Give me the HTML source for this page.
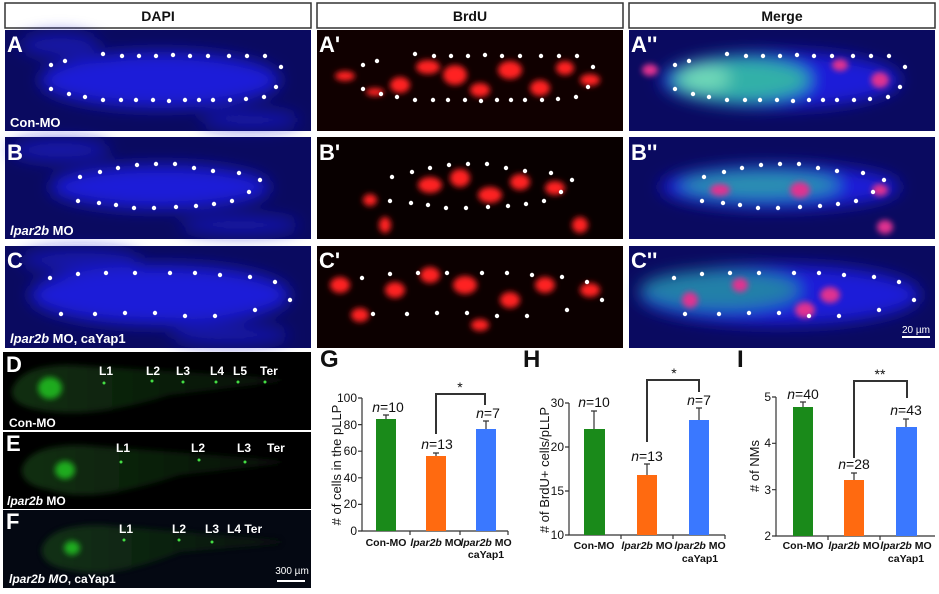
<!DOCTYPE html>
<html><head><meta charset="utf-8"><style>
body{margin:0;background:#fff}
svg{display:block;font-family:"Liberation Sans",Arial,sans-serif}
</style></head><body>
<svg width="939" height="594" viewBox="0 0 939 594" xmlns="http://www.w3.org/2000/svg">
<defs>
<filter id="b8" x="-50%" y="-50%" width="200%" height="200%"><feGaussianBlur stdDeviation="8"/></filter>
<filter id="b3" x="-50%" y="-50%" width="200%" height="200%"><feGaussianBlur stdDeviation="3"/></filter>
<linearGradient id="fish" x1="0" x2="1"><stop offset="0" stop-color="#163f16"/><stop offset="1" stop-color="#0a160a"/></linearGradient>
</defs>
<!-- headers -->
<g fill="#fff" stroke="#333" stroke-width="1.5">
<rect x="5" y="3" width="306" height="25"/><rect x="317" y="3" width="306" height="25"/><rect x="629" y="3" width="306" height="25"/>
</g>
<g font-weight="bold" font-size="14" text-anchor="middle" fill="#111">
<text x="158" y="21">DAPI</text><text x="470" y="21">BrdU</text><text x="782" y="21">Merge</text>
</g>
<g id="rows">
<rect x="5" y="30" width="306" height="101" fill="#0a0a60"/>
<rect x="5" y="137" width="306" height="102" fill="#0a0a60"/>
<rect x="5" y="246" width="306" height="102" fill="#0a0a60"/>
<g fill="#1a1ad8" filter="url(#b8)">
<ellipse cx="160" cy="80" rx="120" ry="28"/><ellipse cx="60" cy="45" rx="40" ry="12" opacity=".6"/><ellipse cx="250" cy="120" rx="50" ry="10" opacity=".6"/>
<ellipse cx="160" cy="187" rx="110" ry="22"/><ellipse cx="60" cy="150" rx="50" ry="12" opacity=".6"/><ellipse cx="240" cy="225" rx="60" ry="10" opacity=".6"/>
<ellipse cx="160" cy="295" rx="130" ry="30"/><ellipse cx="80" cy="260" rx="60" ry="12" opacity=".6"/><ellipse cx="230" cy="335" rx="60" ry="10" opacity=".6"/>
</g>
<rect x="317" y="30" width="306" height="101" fill="#100000"/>
<rect x="317" y="137" width="306" height="102" fill="#080000"/>
<rect x="317" y="246" width="306" height="102" fill="#0c0000"/>
<g fill="#ff2020" filter="url(#b3)">
<ellipse cx="345" cy="76" rx="10" ry="5"/><ellipse cx="400" cy="85" rx="10" ry="8"/><ellipse cx="428" cy="67" rx="12" ry="7"/><ellipse cx="455" cy="75" rx="12" ry="10"/><ellipse cx="480" cy="90" rx="10" ry="7"/><ellipse cx="510" cy="70" rx="12" ry="9"/><ellipse cx="540" cy="88" rx="10" ry="8"/><ellipse cx="565" cy="68" rx="9" ry="7"/><ellipse cx="590" cy="80" rx="10" ry="6"/><ellipse cx="375" cy="92" rx="9" ry="4"/>
<ellipse cx="430" cy="185" rx="12" ry="8"/><ellipse cx="460" cy="178" rx="10" ry="9"/><ellipse cx="490" cy="195" rx="12" ry="8"/><ellipse cx="520" cy="182" rx="10" ry="8"/><ellipse cx="555" cy="188" rx="10" ry="7"/><ellipse cx="370" cy="200" rx="7" ry="6"/><ellipse cx="385" cy="225" rx="6" ry="8"/><ellipse cx="580" cy="225" rx="8" ry="8"/>
<ellipse cx="340" cy="285" rx="10" ry="8"/><ellipse cx="395" cy="290" rx="10" ry="8"/><ellipse cx="430" cy="275" rx="10" ry="8"/><ellipse cx="465" cy="285" rx="12" ry="9"/><ellipse cx="510" cy="300" rx="10" ry="8"/><ellipse cx="545" cy="285" rx="10" ry="8"/><ellipse cx="590" cy="290" rx="10" ry="7"/><ellipse cx="360" cy="315" rx="9" ry="7"/><ellipse cx="480" cy="325" rx="9" ry="6"/>
</g>
<rect x="629" y="30" width="306" height="101" fill="#0a0a60"/>
<rect x="629" y="137" width="306" height="102" fill="#0a0a60"/>
<rect x="629" y="246" width="306" height="102" fill="#0a0a60"/>
<g filter="url(#b8)">
<ellipse cx="780" cy="80" rx="120" ry="28" fill="#1a1ad8"/><ellipse cx="740" cy="80" rx="70" ry="22" fill="#30b0a8"/><ellipse cx="705" cy="78" rx="25" ry="13" fill="#70d8b8"/>
<ellipse cx="780" cy="187" rx="120" ry="22" fill="#1a1ad8"/><ellipse cx="760" cy="185" rx="80" ry="14" fill="#2a90b0"/>
<ellipse cx="780" cy="295" rx="140" ry="30" fill="#1a1ad8"/><ellipse cx="720" cy="290" rx="80" ry="20" fill="#2080a8"/>
</g>
<g fill="#e03090" filter="url(#b3)">
<ellipse cx="650" cy="70" rx="8" ry="6"/><ellipse cx="880" cy="80" rx="9" ry="8"/><ellipse cx="840" cy="65" rx="8" ry="6"/>
<ellipse cx="720" cy="190" rx="10" ry="6"/><ellipse cx="800" cy="190" rx="10" ry="8"/><ellipse cx="880" cy="190" rx="8" ry="6"/><ellipse cx="885" cy="227" rx="8" ry="7"/>
<ellipse cx="690" cy="300" rx="8" ry="8"/><ellipse cx="805" cy="310" rx="10" ry="8"/><ellipse cx="830" cy="295" rx="10" ry="8"/><ellipse cx="740" cy="285" rx="8" ry="7"/>
</g>
</g>
<g fill="#fff">
<g id="dA"><circle cx="51" cy="65" r="2.2"/><circle cx="65" cy="61" r="2.2"/><circle cx="103" cy="54" r="2.2"/><circle cx="122" cy="56" r="2.2"/><circle cx="139" cy="56" r="2.2"/><circle cx="156" cy="56" r="2.2"/><circle cx="173" cy="55" r="2.2"/><circle cx="190" cy="56" r="2.2"/><circle cx="208" cy="56" r="2.2"/><circle cx="229" cy="56" r="2.2"/><circle cx="247" cy="56" r="2.2"/><circle cx="265" cy="56" r="2.2"/><circle cx="281" cy="67" r="2.2"/><circle cx="51" cy="89" r="2.2"/><circle cx="69" cy="94" r="2.2"/><circle cx="85" cy="97" r="2.2"/><circle cx="103" cy="100" r="2.2"/><circle cx="121" cy="100" r="2.2"/><circle cx="136" cy="100" r="2.2"/><circle cx="153" cy="100" r="2.2"/><circle cx="169" cy="101" r="2.2"/><circle cx="185" cy="100" r="2.2"/><circle cx="199" cy="100" r="2.2"/><circle cx="213" cy="100" r="2.2"/><circle cx="230" cy="100" r="2.2"/><circle cx="246" cy="99" r="2.2"/><circle cx="264" cy="97" r="2.2"/><circle cx="276" cy="87" r="2.2"/></g>
<use href="#dA" x="312"/><use href="#dA" x="624"/>
<g id="dB"><circle cx="80" cy="177" r="2.2"/><circle cx="100" cy="172" r="2.2"/><circle cx="118" cy="168" r="2.2"/><circle cx="137" cy="165" r="2.2"/><circle cx="156" cy="164" r="2.2"/><circle cx="175" cy="164" r="2.2"/><circle cx="194" cy="168" r="2.2"/><circle cx="213" cy="171" r="2.2"/><circle cx="239" cy="173" r="2.2"/><circle cx="260" cy="180" r="2.2"/><circle cx="78" cy="201" r="2.2"/><circle cx="99" cy="203" r="2.2"/><circle cx="116" cy="205" r="2.2"/><circle cx="134" cy="208" r="2.2"/><circle cx="154" cy="208" r="2.2"/><circle cx="176" cy="207" r="2.2"/><circle cx="196" cy="206" r="2.2"/><circle cx="214" cy="204" r="2.2"/><circle cx="232" cy="201" r="2.2"/><circle cx="249" cy="192" r="2.2"/></g>
<use href="#dB" x="312"/><use href="#dB" x="624"/>
<g id="dC"><circle cx="50" cy="278" r="2.2"/><circle cx="78" cy="274" r="2.2"/><circle cx="106" cy="273" r="2.2"/><circle cx="135" cy="273" r="2.2"/><circle cx="170" cy="273" r="2.2"/><circle cx="195" cy="273" r="2.2"/><circle cx="220" cy="275" r="2.2"/><circle cx="250" cy="277" r="2.2"/><circle cx="275" cy="282" r="2.2"/><circle cx="290" cy="300" r="2.2"/><circle cx="61" cy="314" r="2.2"/><circle cx="95" cy="314" r="2.2"/><circle cx="125" cy="313" r="2.2"/><circle cx="155" cy="313" r="2.2"/><circle cx="185" cy="316" r="2.2"/><circle cx="215" cy="316" r="2.2"/><circle cx="255" cy="310" r="2.2"/></g>
<use href="#dC" x="312"/><use href="#dC" x="624"/>
</g>
<g fill="#fff" font-weight="bold" font-size="22">
<text x="7" y="52">A</text><text x="319" y="52">A'</text><text x="631" y="52">A''</text>
<text x="7" y="160">B</text><text x="319" y="160">B'</text><text x="631" y="160">B''</text>
<text x="7" y="268">C</text><text x="319" y="268">C'</text><text x="631" y="268">C''</text>
</g>
<g fill="#fff" font-weight="bold" font-size="13">
<text x="10" y="127">Con-MO</text>
<text x="10" y="235"><tspan font-style="italic">lpar2b</tspan> MO</text>
<text x="10" y="343"><tspan font-style="italic">lpar2b</tspan> MO, caYap1</text>
</g>
<rect x="902" y="336" width="28" height="2" fill="#fff"/><text x="916" y="333" fill="#fff" font-size="10" text-anchor="middle">20 µm</text>
<rect x="3" y="352" width="308" height="78" fill="#000"/>
<rect x="3" y="432" width="308" height="77" fill="#000"/>
<rect x="3" y="510" width="308" height="78" fill="#040812"/>
<g filter="url(#b3)" opacity=".75">
<path d="M12 390 Q20 365 70 365 L280 378 L280 382 L170 395 Q90 420 40 410 Q10 405 12 390Z" fill="url(#fish)"/>
<path d="M22 468 Q30 445 80 445 L280 460 L280 464 L180 475 Q90 505 50 490 Q20 485 22 468Z" fill="url(#fish)"/>
<path d="M42 548 Q50 525 100 525 L280 540 L280 544 L180 552 Q110 580 70 570 Q40 565 42 548Z" fill="url(#fish)"/>
</g>
<g fill="#2c2" filter="url(#b3)" opacity=".8"><ellipse cx="50" cy="388" rx="12" ry="11"/><ellipse cx="65" cy="470" rx="10" ry="9"/><ellipse cx="72" cy="548" rx="8" ry="7"/></g>
<g fill="#4d4"><circle cx="104" cy="383" r="1.5"/><circle cx="152" cy="381" r="1.5"/><circle cx="183" cy="382" r="1.5"/><circle cx="216" cy="382" r="1.5"/><circle cx="238" cy="382" r="1.5"/><circle cx="265" cy="382" r="1.5"/><circle cx="121" cy="462" r="1.5"/><circle cx="199" cy="460" r="1.5"/><circle cx="245" cy="462" r="1.5"/><circle cx="124" cy="540" r="1.5"/><circle cx="179" cy="540" r="1.5"/><circle cx="212" cy="542" r="1.5"/></g>
<g fill="#fff" font-weight="bold" font-size="22"><text x="6" y="372">D</text><text x="6" y="451">E</text><text x="6" y="529">F</text></g>
<g fill="#fff" font-size="12" font-weight="bold">
<text x="99" y="375">L1</text><text x="146" y="375">L2</text><text x="176" y="375">L3</text><text x="210" y="375">L4</text><text x="233" y="375">L5</text><text x="260" y="375">Ter</text>
<text x="116" y="452">L1</text><text x="191" y="452">L2</text><text x="237" y="452">L3</text><text x="267" y="452">Ter</text>
<text x="119" y="533">L1</text><text x="172" y="533">L2</text><text x="205" y="533">L3</text><text x="227" y="533">L4 Ter</text>
<text x="9" y="427" font-size="12">Con-MO</text>
<text x="7" y="505"><tspan font-style="italic">lpar2b</tspan> MO</text>
<text x="9" y="583"><tspan font-style="italic">lpar2b MO</tspan>, caYap1</text>
</g>
<text x="292" y="574" fill="#fff" font-size="10" text-anchor="middle">300 µm</text><rect x="277" y="580" width="28" height="2" fill="#fff"/>
<!-- charts -->
<g font-weight="bold" font-size="24" fill="#111"><text x="320" y="367">G</text><text x="523" y="367">H</text><text x="737" y="367">I</text></g>
<g stroke="#333" stroke-width="1.2" fill="none">
<path d="M362 398 V531 H508"/><path d="M358 398H362M358 424.6H362M358 451.2H362M358 477.8H362M358 504.4H362M358 531H362"/>
<path d="M410 531v4M460 531v4M508 531v4"/>
<path d="M569 403 V535 H725"/><path d="M565 403H569M565 447H569M565 491H569M565 535H569"/><path d="M621 535v4M673 535v4M725 535v4"/>
<path d="M776 397 V536 H935"/><path d="M772 397H776M772 443.3H776M772 489.7H776M772 536H776"/><path d="M828 536v4M880 536v4"/>
</g>
<rect x="376" y="419" width="20" height="112" fill="#1a8a1a"/><rect x="426" y="456" width="20" height="75" fill="#ff6a10"/><rect x="476" y="429" width="20" height="102" fill="#3a78ff"/>
<rect x="584" y="429" width="21" height="106" fill="#1a8a1a"/><rect x="637" y="475" width="20" height="60" fill="#ff6a10"/><rect x="689" y="420" width="20" height="115" fill="#3a78ff"/>
<rect x="793" y="407" width="20" height="129" fill="#1a8a1a"/><rect x="844" y="480" width="20" height="56" fill="#ff6a10"/><rect x="896" y="427" width="21" height="109" fill="#3a78ff"/>
<g stroke="#333" stroke-width="1.2" fill="none">
<path d="M386 419V415M383 415H389M436 456V453M433 453H439M486 429V421M483 421H489"/>
<path d="M594 429V411M591 411H597M647 475V464M644 464H650M699 420V408M696 408H702"/>
<path d="M803 407V402M800 402H806M854 480V473M851 473H857M906 427V419M903 419H909"/>
<path d="M436 434V394H485V405" stroke-width="2"/>
<path d="M647 442V380H699V392" stroke-width="2"/>
<path d="M854 458V381H907V398" stroke-width="2"/>
</g>
<g font-size="14" fill="#111" text-anchor="middle">
<text x="460" y="392">*</text><text x="674" y="378">*</text><text x="880" y="379">**</text>
<text x="388" y="412"><tspan font-style="italic">n</tspan>=10</text><text x="437" y="449"><tspan font-style="italic">n</tspan>=13</text><text x="488" y="418"><tspan font-style="italic">n</tspan>=7</text>
<text x="594" y="407"><tspan font-style="italic">n</tspan>=10</text><text x="647" y="461"><tspan font-style="italic">n</tspan>=13</text><text x="699" y="405"><tspan font-style="italic">n</tspan>=7</text>
<text x="803" y="399"><tspan font-style="italic">n</tspan>=40</text><text x="854" y="469"><tspan font-style="italic">n</tspan>=28</text><text x="906" y="415"><tspan font-style="italic">n</tspan>=43</text>
</g>
<g font-size="12" fill="#111" text-anchor="end">
<text x="357" y="402">100</text><text x="357" y="429">80</text><text x="357" y="455">60</text><text x="357" y="482">40</text><text x="357" y="508">20</text><text x="357" y="535">0</text>
<text x="564" y="407">30</text><text x="564" y="451">20</text><text x="564" y="495">15</text><text x="564" y="539">10</text>
<text x="771" y="401">5</text><text x="771" y="447">4</text><text x="771" y="494">3</text><text x="771" y="540">2</text>
</g>
<g font-size="13" fill="#111" text-anchor="middle">
<text transform="translate(341 465) rotate(-90)"># of  cells in the pLLP</text>
<text transform="translate(549 470) rotate(-90)"># of  BrdU+ cells/pLLP</text>
<text transform="translate(759 466) rotate(-90)"># of  NMs</text>
</g>
<g font-size="10.5" font-weight="bold" fill="#111" text-anchor="middle">
<text x="386" y="546">Con-MO</text><text x="436" y="546"><tspan font-style="italic">lpar2b</tspan> MO</text><text x="486" y="546"><tspan font-style="italic">lpar2b</tspan> MO</text><text x="486" y="558">caYap1</text>
<text x="594" y="549">Con-MO</text><text x="647" y="549"><tspan font-style="italic">lpar2b</tspan> MO</text><text x="700" y="549"><tspan font-style="italic">lpar2b</tspan> MO</text><text x="700" y="562">caYap1</text>
<text x="803" y="549">Con-MO</text><text x="854" y="549"><tspan font-style="italic">lpar2b</tspan> MO</text><text x="906" y="549"><tspan font-style="italic">lpar2b</tspan> MO</text><text x="906" y="562">caYap1</text>
</g>
</svg>
</body></html>
